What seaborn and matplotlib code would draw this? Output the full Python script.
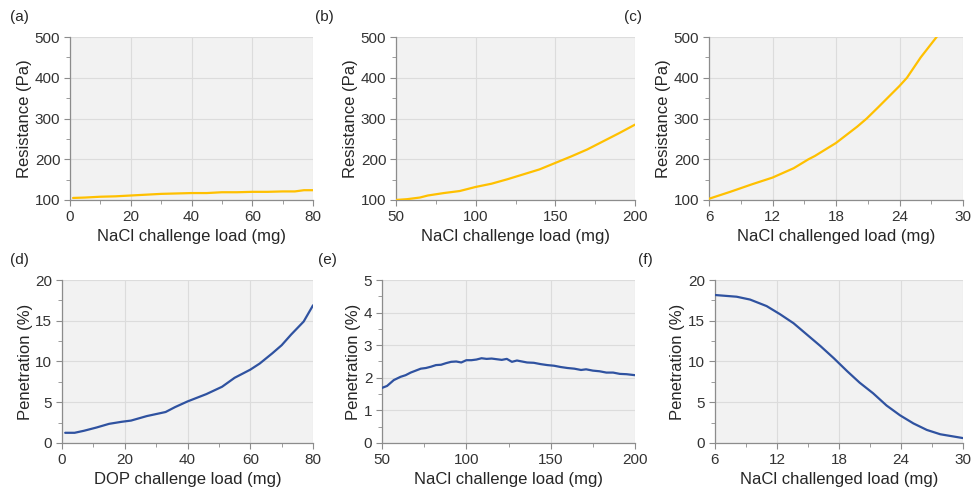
import numpy as np
import pandas as pd
import matplotlib.pyplot as plt
import seaborn as sns
from matplotlib.ticker import MultipleLocator

sns.set_style('white')
plt.rcParams['font.family'] = ['Liberation Sans', 'DejaVu Sans']

# (a) resistance vs NaCl load
a_x = [1, 5, 10, 15, 20, 25, 30, 35, 40, 45, 50, 55, 60, 65, 70, 74, 77, 80]
a_y = [105, 106, 108, 109, 111, 113, 115, 116, 117, 117, 119, 119, 120, 120, 121, 121, 124, 124]

# (b) resistance vs NaCl load
b_x = [50, 57, 65, 70, 80, 90, 100, 110, 120, 130, 140, 150, 160, 170, 180, 190, 200]
b_y = [100, 102, 106, 111, 117, 122, 132, 140, 151, 163, 175, 191, 207, 224, 244, 264, 285]

# (c) resistance vs NaCl challenged load
c_x = [6, 8, 10, 12, 14, 15.4, 16, 18, 20, 20.9, 22, 24, 24.7, 26, 27.5, 28.5]
c_y = [103, 120, 138, 155, 178, 200, 208, 240, 280, 300, 328, 380, 400, 450, 500, 540]

# (d) penetration vs DOP load
d_x = [1, 4, 7, 11, 15, 19, 22, 27, 33, 36, 40, 46, 51, 55, 60, 63, 67, 70, 73, 77, 80]
d_y = [1.25, 1.25, 1.5, 1.9, 2.35, 2.6, 2.75, 3.3, 3.8, 4.4, 5.1, 6.0, 6.9, 8.0, 9.0, 9.75, 11.0, 12.0, 13.3, 14.9, 16.9]

# (e) penetration vs NaCl load
e_x = [50, 53, 57, 61, 64, 67, 70, 73, 76, 79, 82, 85, 88, 91, 94, 97, 100, 103, 106, 109,
       112, 115, 118, 121, 124, 127, 130, 133, 136, 140, 144, 148, 152, 156, 160, 164, 168,
       171, 175, 179, 183, 187, 191, 195, 200]
e_y = [1.69, 1.75, 1.93, 2.03, 2.08, 2.16, 2.22, 2.28, 2.30, 2.34, 2.39, 2.40, 2.45, 2.49, 2.50,
       2.47, 2.54, 2.54, 2.56, 2.60, 2.58, 2.59, 2.57, 2.55, 2.58, 2.49, 2.53, 2.50, 2.47, 2.46,
       2.42, 2.39, 2.37, 2.33, 2.30, 2.28, 2.24, 2.26, 2.22, 2.20, 2.16, 2.16, 2.12, 2.11, 2.08]

# (f) penetration vs NaCl challenged load
f_x = [6, 8.1, 9.4, 11, 12.3, 13.6, 14.9, 16.2, 17.5, 18.8, 20, 21.3, 22.6, 23.9, 25.2, 26.5, 27.8, 30]
f_y = [18.16, 17.95, 17.6, 16.8, 15.8, 14.7, 13.3, 11.9, 10.4, 8.8, 7.4, 6.1, 4.6, 3.4, 2.4, 1.6, 1.07, 0.6]

yellow = '#FFC000'
blue = '#2F52A0'

panels = [
    ('(a)', a_x, a_y, yellow, (0, 80), 20, 10, (100, 500), 100, 50, 'NaCl challenge load (mg)', 'Resistance (Pa)',
     [0.0721, 0.5927, 0.2503, 0.3319], (0.010, 0.965)),
    ('(b)', b_x, b_y, yellow, (50, 200), 50, 25, (100, 500), 100, 50, 'NaCl challenge load (mg)', 'Resistance (Pa)',
     [0.4078, 0.5927, 0.2462, 0.3319], (0.324, 0.965)),
    ('(c)', c_x, c_y, yellow, (6, 30), 6, 3, (100, 500), 100, 50, 'NaCl challenged load (mg)', 'Resistance (Pa)',
     [0.7302, 0.5927, 0.2616, 0.3319], (0.643, 0.965)),
    ('(d)', d_x, d_y, blue, (0, 80), 20, 10, (0, 20), 5, 2.5, 'DOP challenge load (mg)', 'Penetration (%)',
     [0.0639, 0.0978, 0.2585, 0.3319], (0.010, 0.47)),
    ('(e)', e_x, e_y, blue, (50, 200), 50, 25, (0, 5), 1, 0.5, 'NaCl challenge load (mg)', 'Penetration (%)',
     [0.3934, 0.0978, 0.2606, 0.3319], (0.327, 0.47)),
    ('(f)', f_x, f_y, blue, (6, 30), 6, 3, (0, 20), 5, 2.5, 'NaCl challenged load (mg)', 'Penetration (%)',
     [0.7363, 0.0978, 0.2555, 0.3319], (0.657, 0.47)),
]

fig = plt.figure(figsize=(9.71, 4.91), dpi=100)

for tag, xs, ys, col, xlim, xmaj, xmin, ylim, ymaj, ymin, xlab, ylab, rect, tpos in panels:
    ax = fig.add_axes(rect)
    ax.set_facecolor('#f2f2f2')
    df = pd.DataFrame({'x': xs, 'y': ys})
    sns.lineplot(data=df, x='x', y='y', color=col, linewidth=1.6, ax=ax, zorder=3)
    ax.set_xlim(*xlim)
    ax.set_ylim(*ylim)
    ax.xaxis.set_major_locator(MultipleLocator(xmaj))
    ax.xaxis.set_minor_locator(MultipleLocator(xmin))
    ax.yaxis.set_major_locator(MultipleLocator(ymaj))
    ax.yaxis.set_minor_locator(MultipleLocator(ymin))
    ax.grid(True, which='major', color='#dcdcdc', linewidth=0.8)
    ax.set_axisbelow(True)
    for s in ['top', 'right']:
        ax.spines[s].set_visible(False)
    for s in ['left', 'bottom']:
        ax.spines[s].set_color('#8c8c8c')
        ax.spines[s].set_linewidth(0.9)
    ax.tick_params(which='both', direction='out', color='#8c8c8c', labelsize=11,
                   labelcolor='#333333', bottom=True, left=True)
    ax.tick_params(which='major', length=4, pad=3)
    ax.tick_params(which='minor', length=3)
    ax.set_xlabel(xlab, fontsize=12, color='#262626', labelpad=4)
    ax.set_ylabel(ylab, fontsize=12, color='#262626', labelpad=2)
    fig.text(tpos[0], tpos[1], tag, fontsize=11, color='#262626', ha='left', va='center')

fig.savefig('out.png', dpi=100)
